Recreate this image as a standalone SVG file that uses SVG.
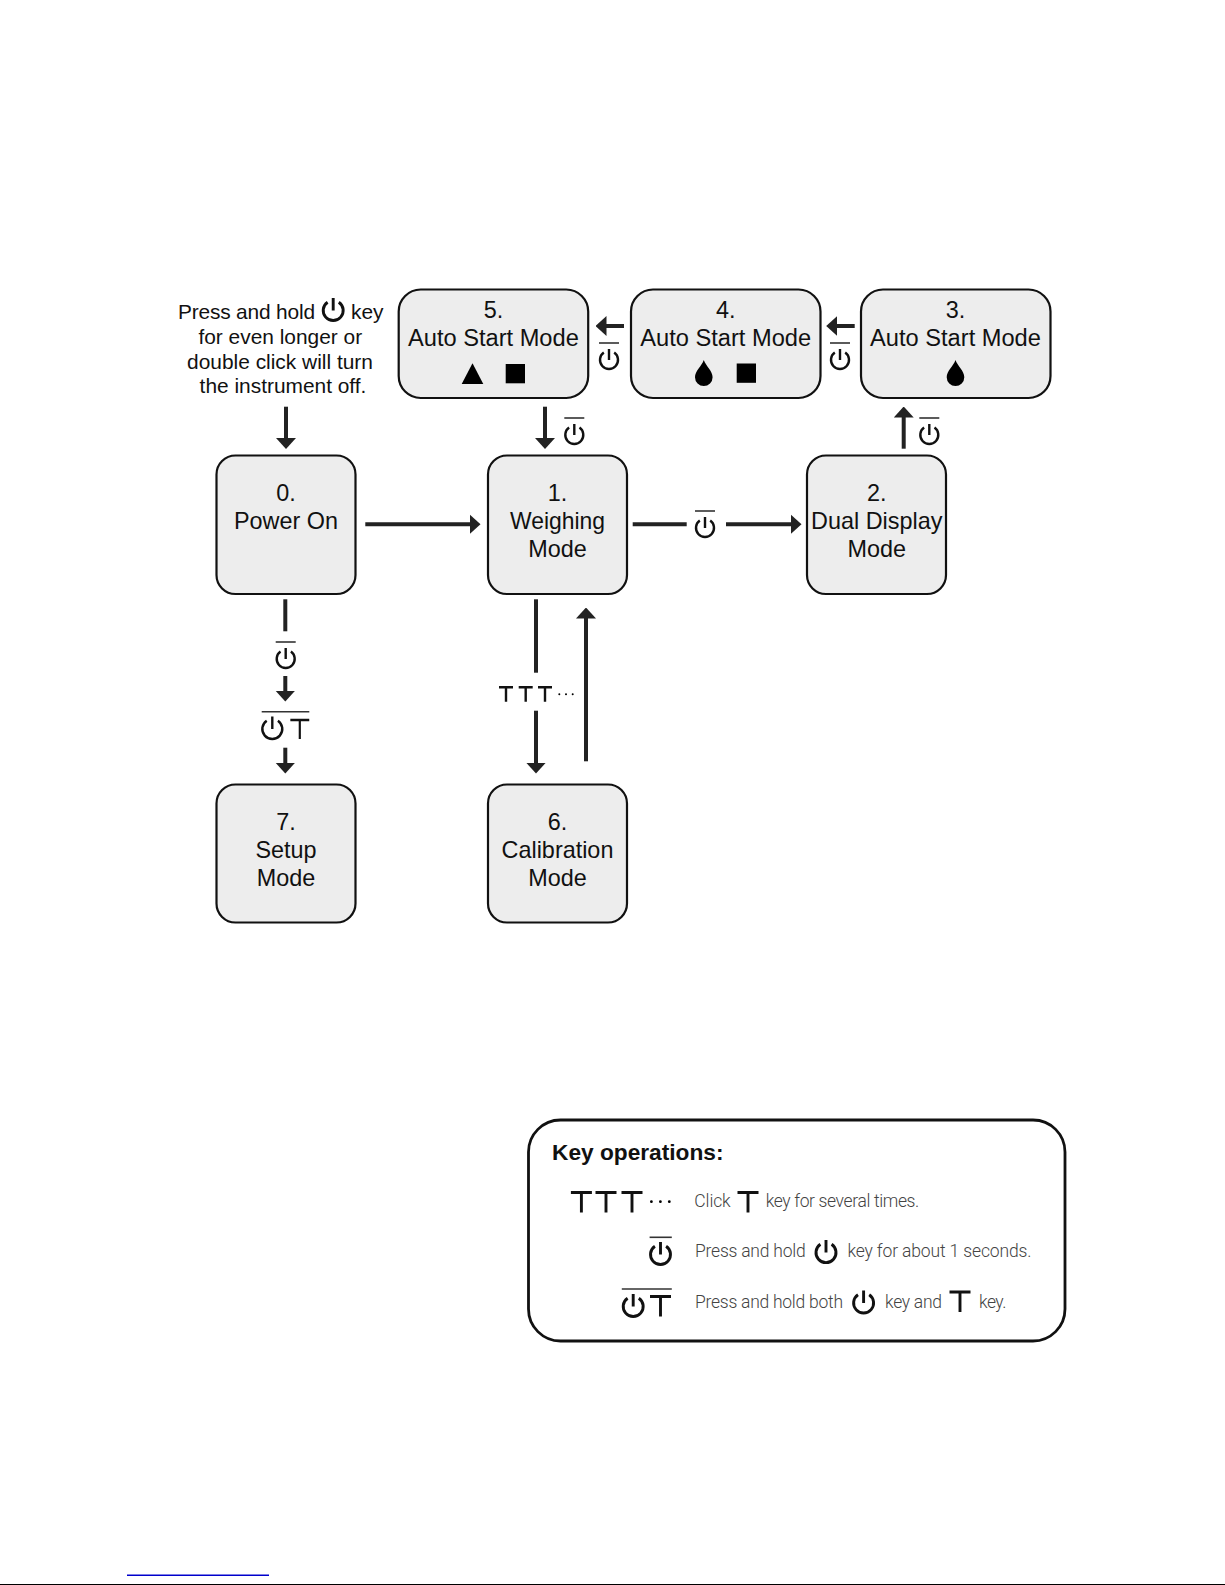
<svg xmlns="http://www.w3.org/2000/svg" width="1225" height="1585" viewBox="0 0 1225 1585">
<style>
text{font-family:"Liberation Sans",Arial,sans-serif;fill:#111}
.n{fill:#ededed;stroke:#111;stroke-width:2.2}
.t{font-size:23.4px;text-anchor:middle}
.w{font-size:23.65px;text-anchor:middle}
.p{font-size:20.9px}
.c{font-size:20.9px;text-anchor:middle}
.k{font-family:Roboto,"Liberation Sans",sans-serif;font-weight:300;font-size:17.5px;fill:#444}
.h{font-size:22.7px;font-weight:bold}
.a{fill:none;stroke:#222;stroke-width:4}
.s{fill:#000}
.i{fill:none;stroke:#111;stroke-width:2.4}
.b{fill:none;stroke:#111;stroke-width:2.9}
.o{stroke:#333;stroke-width:1.6;fill:none}
</style>
<defs>
<marker id="ah" markerUnits="userSpaceOnUse" markerWidth="11" markerHeight="20" refX="0.5" refY="10" orient="auto"><path d="M0 0L11 10L0 20Z" fill="#222"/></marker>
<path id="pw" d="M-5.2-7.4A9 9 0 1 0 5.2-7.4M0-11V0"/>
<path id="pwL" d="M-5.6-8.3A10 10 0 1 0 5.6-8.3M0-12.5V0"/>
<g id="pwo"><use href="#pw" class="i"/><path d="M-10-17H10" class="o"/></g>
<path id="T" d="M-7 0H7M0 0V14.5"/>
<path id="TL" d="M-10.5 0H10.5M0 0V20"/>
<path id="drop" d="M0-13C2-7 8.8-2 8.8 4.2A8.8 8.8 0 0 1-8.8 4.2C-8.8-2-2-7 0-13Z"/>
</defs>
<rect width="1225" height="1585" fill="#fff"/>
<g id="connectors">
<path class="a" d="M286 406.7V438.5" marker-end="url(#ah)"/>
<path class="a" d="M545 406.7V438.5" marker-end="url(#ah)"/>
<path class="a" d="M365.3 524.3H470" marker-end="url(#ah)"/>
<path class="a" d="M632.7 524.3H686.7"/>
<path class="a" d="M726 524.3H791" marker-end="url(#ah)"/>
<path class="a" d="M624 326H606" marker-end="url(#ah)"/>
<path class="a" d="M854.7 326H836.7" marker-end="url(#ah)"/>
<path class="a" d="M903.7 448.7V417" marker-end="url(#ah)"/>
<path class="a" d="M285.3 599.3V631.3"/>
<path class="a" d="M285.3 676V691" marker-end="url(#ah)"/>
<path class="a" d="M285.3 747.7V763" marker-end="url(#ah)"/>
<path class="a" d="M536 599.3V672.7"/>
<path class="a" d="M536 710.7V763" marker-end="url(#ah)"/>
<path class="a" d="M586 761.3V618" marker-end="url(#ah)"/>
</g>
<g id="note">
<text class="p" x="178" y="319.3" textLength="137">Press and hold</text>
<use href="#pwL" class="b" x="333.2" y="310.5"/>
<text class="p" x="351" y="319.3">key</text>
<text class="c" x="280.3" y="344">for even longer or</text>
<text class="c" x="280" y="368.7">double click will turn</text>
<text class="c" x="283" y="393.3">the instrument off.</text>
</g>
<g id="node-0"><rect class="n" x="216.5" y="455.5" width="139" height="138.5" rx="19"/><text class="t" x="286" y="501">0.</text><text class="t" x="286" y="529">Power On</text></g>
<g id="node-1"><rect class="n" x="488" y="455.5" width="139" height="138.5" rx="19"/><text class="t" x="557.5" y="501">1.</text><text class="t" x="557.5" y="529" textLength="95" lengthAdjust="spacingAndGlyphs">Weighing</text><text class="t" x="557.5" y="557">Mode</text></g>
<g id="node-2"><rect class="n" x="807" y="455.5" width="139" height="138.5" rx="19"/><text class="t" x="876.7" y="501">2.</text><text class="t" x="876.7" y="529">Dual Display</text><text class="t" x="876.7" y="557">Mode</text></g>
<g id="node-3"><rect class="n" x="861" y="289.5" width="189.5" height="108.5" rx="22"/><text class="t" x="955.5" y="318.3">3.</text><text class="w" x="955.5" y="346">Auto Start Mode</text><use href="#drop" class="s" x="955.5" y="373"/></g>
<g id="node-4"><rect class="n" x="631" y="289.5" width="189.5" height="108.5" rx="22"/><text class="t" x="725.7" y="318.3">4.</text><text class="w" x="725.7" y="346">Auto Start Mode</text><use href="#drop" class="s" x="703.8" y="373"/><rect class="s" x="736.7" y="363.5" width="19.3" height="19.3"/></g>
<g id="node-5"><rect class="n" x="398.7" y="289.5" width="189.5" height="108.5" rx="22"/><text class="t" x="493.4" y="318.3">5.</text><text class="w" x="493.4" y="346">Auto Start Mode</text><path class="s" d="M472.5 363.3L483.3 384H461.7Z"/><rect class="s" x="505.7" y="364" width="19.3" height="19.3"/></g>
<g id="node-6"><rect class="n" x="488" y="784.5" width="139" height="138" rx="19"/><text class="t" x="557.5" y="830">6.</text><text class="t" x="557.5" y="858">Calibration</text><text class="t" x="557.5" y="885.7">Mode</text></g>
<g id="node-7"><rect class="n" x="216.5" y="784.5" width="139" height="138" rx="19"/><text class="t" x="286" y="830">7.</text><text class="t" x="286" y="858">Setup</text><text class="t" x="286" y="885.7">Mode</text></g>
<g id="labels">
<use href="#pwo" x="574.3" y="435"/>
<use href="#pwo" x="929.3" y="435"/>
<use href="#pwo" x="609" y="360"/>
<use href="#pwo" x="840" y="360"/>
<use href="#pwo" x="705" y="528"/>
<use href="#pwo" x="285.7" y="659"/>
<g id="combo-a"><path class="o" d="M261.7 711.7H309.3"/><use href="#pwL" class="i" x="272.3" y="729"/><use href="#TL" class="i" transform="translate(299.8 720) scale(.9 .95)"/></g>
<g id="ttt-a"><use href="#T" class="i" x="506" y="687.3"/><use href="#T" class="i" x="525.7" y="687.3"/><use href="#T" class="i" x="545" y="687.3"/><circle class="s" cx="559.3" cy="694.3" r="1"/><circle class="s" cx="566" cy="694.3" r="1"/><circle class="s" cx="572.7" cy="694.3" r="1"/></g>
</g>
<g id="legend">
<rect x="528.5" y="1120" width="536.5" height="221" rx="32" fill="#fff" stroke="#111" stroke-width="2.8"/>
<text class="h" x="552" y="1160">Key operations:</text>
<g id="row-1"><use href="#TL" class="b" x="581.4" y="1192.5"/><use href="#TL" class="b" x="606" y="1192.5"/><use href="#TL" class="b" x="632" y="1192.5"/><circle class="s" cx="651.4" cy="1201.7" r="1.4"/><circle class="s" cx="660.4" cy="1201.7" r="1.4"/><circle class="s" cx="669.3" cy="1201.7" r="1.4"/>
<text class="k" x="694.3" y="1207.3" textLength="36.4">Click</text><use href="#TL" class="b" x="748" y="1192.5"/><text class="k" x="765.7" y="1207.3" textLength="153.6">key for several times.</text></g>
<g id="row-2"><path class="o" d="M649.6 1237.3H671.8"/><use href="#pwL" class="b" x="660.5" y="1254.5"/>
<text class="k" x="695" y="1257.3" textLength="110.7">Press and hold</text><use href="#pwL" class="b" x="826" y="1252.6"/><text class="k" x="847.5" y="1257.3" textLength="183.9">key for about 1 seconds.</text></g>
<g id="row-3"><path class="o" d="M621.8 1289H671.8"/><use href="#pwL" class="b" x="633.2" y="1306.5"/><use href="#TL" class="b" x="660.5" y="1296.5"/>
<text class="k" x="695" y="1308.3" textLength="148">Press and hold both</text><use href="#pwL" class="b" x="863.6" y="1303"/><text class="k" x="885" y="1308.3" textLength="57">key and</text><use href="#TL" class="b" x="960" y="1292"/><text class="k" x="979" y="1308.3" textLength="27.4">key.</text></g>
</g>
<rect id="blue-rule" x="127" y="1574.5" width="142" height="1.5" fill="#0000cc"/>
<rect id="page-rule" x="0" y="1584" width="1225" height="1" fill="#000"/>
</svg>
